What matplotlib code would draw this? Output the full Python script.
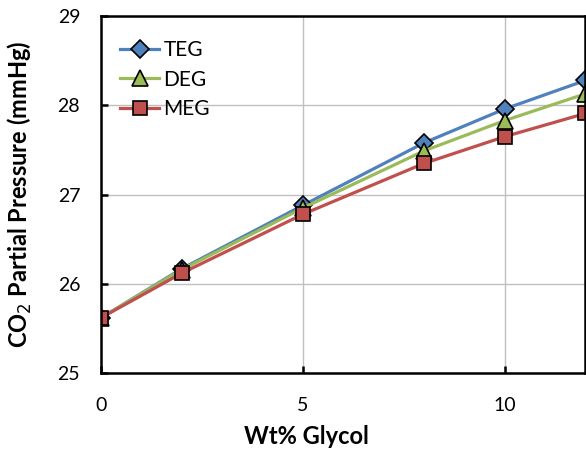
import matplotlib.pyplot as plt

# Data
wt_glycol = [0, 2, 5, 8, 10, 12]
teg = [25.62, 26.17, 26.88, 27.58, 27.96, 28.28]
deg = [25.62, 26.16, 26.85, 27.49, 27.83, 28.13]
meg = [25.62, 26.12, 26.78, 27.35, 27.65, 27.91]

plt.rcParams['font.family'] = ['Lato', 'DejaVu Sans']

fig = plt.figure(figsize=(5.86, 4.49), dpi=100)
ax = fig.add_axes([0.1724, 0.169, 0.8266, 0.795])

ax.plot(wt_glycol, teg, color='#4F81BD', lw=2.3, marker='D', ms=9,
        mfc='#4F81BD', mec='black', mew=1.2, label='TEG')
ax.plot(wt_glycol, deg, color='#9BBB59', lw=2.3, marker='^', ms=11,
        mfc='#9BBB59', mec='black', mew=1.2, label='DEG')
ax.plot(wt_glycol, meg, color='#C0504D', lw=2.3, marker='s', ms=10,
        mfc='#C0504D', mec='black', mew=1.2, label='MEG')

ax.set_xlim(0, 12)
ax.set_ylim(25, 29)
ax.set_xticks([0, 5, 10])
ax.set_yticks([25, 26, 27, 28, 29])
ax.grid(True, color='#C0C0C0', lw=1)
ax.set_axisbelow(True)

for s in ax.spines.values():
    s.set_linewidth(1.8)
ax.tick_params(direction='in', length=5, width=1.8, labelsize=14)
ax.tick_params(axis='x', pad=17)
ax.tick_params(axis='y', pad=15)

ax.set_xlabel('Wt% Glycol', fontsize=17, fontweight='bold')
ax.xaxis.set_label_coords(5.1 / 12, -0.145)
ax.set_ylabel('CO$_2$ Partial Pressure (mmHg)', fontsize=17, fontweight='bold')
ax.yaxis.set_label_coords(-0.138, 0.5)

ax.legend(loc='upper left', bbox_to_anchor=(0.0, 0.985), frameon=False,
          fontsize=15, handlelength=1.9, labelspacing=0.45, handletextpad=0.2)

fig.savefig('out.png', dpi=100)
